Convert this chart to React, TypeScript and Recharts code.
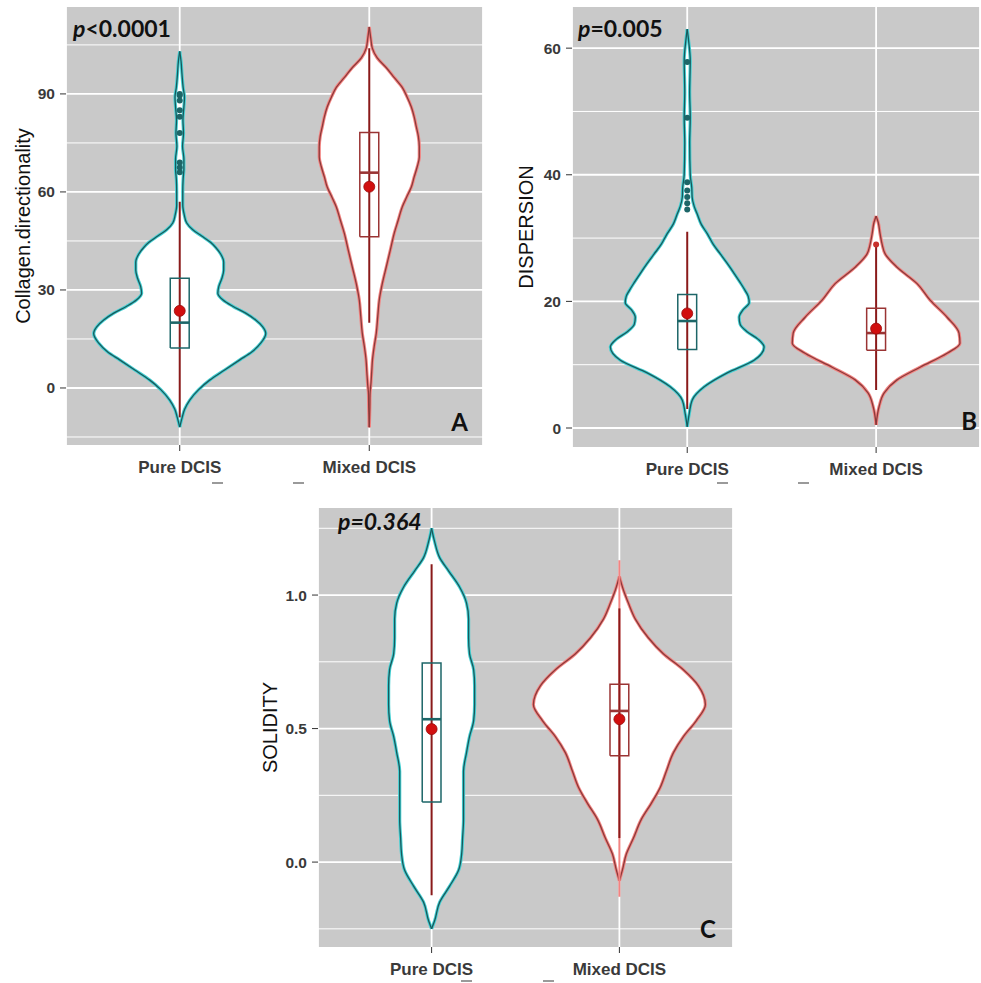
import React from 'react';
import { ComposedChart, Area, Line, Scatter, XAxis, YAxis, CartesianGrid } from 'recharts';

type Pt = [number, number];

const groups = ['Pure DCIS', 'Mixed DCIS'];

// violin outlines: [value, half width of the violin in x units]
const dirPureViolin: Pt[] = [
  [-12, 0], [-9, 0.013], [-6.5, 0.026], [-3.7, 0.053], [-0.5, 0.1], [2.4, 0.158], [5.5, 0.237],
  [8.6, 0.317], [11, 0.38], [13.7, 0.427], [16.7, 0.454], [18.7, 0.438], [20.8, 0.401], [22.9, 0.348],
  [25, 0.28], [27, 0.227], [29, 0.201], [31, 0.206], [33.5, 0.222], [36, 0.232], [38.5, 0.232],
  [41, 0.216], [43, 0.19], [44.5, 0.164], [46.5, 0.116], [48.4, 0.069], [50.5, 0.037], [53, 0.024],
  [56, 0.016], [60, 0.016], [64, 0.018], [67, 0.022], [70, 0.022], [74, 0.015], [78, 0.02], [82, 0.017],
  [86, 0.022], [89, 0.025], [92, 0.018], [96, 0.012], [100, 0.007], [103, 0],
];
const dirMixedViolin: Pt[] = [
  [-12, 0], [-6, 0.003], [-2, 0.004], [1.5, 0.009], [5, 0.013], [8.6, 0.017], [12.7, 0.026],
  [16.8, 0.037], [22, 0.045], [27, 0.053], [32, 0.069], [37.1, 0.09], [42.2, 0.111], [47.4, 0.132],
  [51.4, 0.153], [55.4, 0.174], [58.5, 0.198], [61.5, 0.222], [64.6, 0.237], [67.7, 0.253], [70.7, 0.264],
  [73.8, 0.264], [77, 0.259], [80, 0.248], [83, 0.237], [86, 0.222], [89, 0.2], [92, 0.174], [95, 0.132],
  [98, 0.09], [101, 0.042], [104, 0.016], [107, 0.008], [110.5, 0],
];
const dirQuartiles = [[12.2, 20, 33.6], [46.3, 65.9, 78.2]];
const dirMeans = [23.6, 61.6];
const dirWhiskers = [[-9, 57], [20, 104]];
const dirOutliers = [[66, 67.5, 69, 78, 83, 85, 88, 89.5, 90], []];
const dirTicks = [0, 30, 60, 90];
const dirMinor = [-15, 15, 45, 75, 105];

const dispPureViolin: Pt[] = [
  [0.2, 0], [2.3, 0.011], [4.4, 0.026], [6.5, 0.09], [8.7, 0.212], [10.7, 0.354], [12.8, 0.407],
  [14, 0.376], [15.2, 0.317], [16.4, 0.28], [17.5, 0.275], [18.7, 0.296], [19.8, 0.328], [20.8, 0.323],
  [21.7, 0.307], [23, 0.28], [24.4, 0.249], [26, 0.212], [27.5, 0.175], [29, 0.138], [30.7, 0.106],
  [32.2, 0.074], [33.8, 0.053], [35, 0.037], [36.5, 0.026], [38, 0.024], [40, 0.016], [45, 0.013],
  [49, 0.016], [53, 0.013], [58, 0.016], [61, 0.008], [63, 0],
];
const dispMixedViolin: Pt[] = [
  [0.5, 0], [3.4, 0.016], [5.5, 0.042], [7.6, 0.111], [9.6, 0.233], [11.8, 0.376], [13.4, 0.444],
  [15, 0.439], [17.5, 0.376], [20.2, 0.286], [22.8, 0.217], [25.4, 0.111], [27.5, 0.048], [29, 0.032],
  [30.7, 0.021], [32.5, 0.011], [33.5, 0],
];
const dispQuartiles = [[12.4, 16.9, 21.1], [12.3, 15, 18.9]];
const dispMeans = [18.1, 15.7];
const dispWhiskers = [[3, 31], [6, 29]];
const dispOutliers = [[34.5, 35.5, 36.5, 37.5, 38.8, 49, 57.8], [29]];
const dispTicks = [0, 20, 40, 60];
const dispMinor = [10, 30, 50];

const solPureViolin: Pt[] = [
  [-0.25, 0], [-0.22, 0.016], [-0.15, 0.043], [-0.09, 0.096], [-0.03, 0.144], [0.03, 0.16], [0.09, 0.165],
  [0.16, 0.17], [0.22, 0.17], [0.28, 0.17], [0.34, 0.17], [0.41, 0.186], [0.47, 0.202], [0.53, 0.224],
  [0.59, 0.229], [0.66, 0.229], [0.72, 0.224], [0.78, 0.202], [0.84, 0.197], [0.91, 0.197], [0.97, 0.186],
  [1.03, 0.149], [1.09, 0.091], [1.14, 0.043], [1.2, 0.016], [1.25, 0],
];
const solMixedViolin: Pt[] = [
  [-0.07, 0], [-0.03, 0.016], [0.03, 0.037], [0.09, 0.075], [0.16, 0.117], [0.22, 0.17], [0.28, 0.218],
  [0.34, 0.25], [0.41, 0.288], [0.47, 0.341], [0.53, 0.41], [0.59, 0.458], [0.66, 0.421], [0.72, 0.341],
  [0.78, 0.234], [0.84, 0.154], [0.91, 0.085], [0.97, 0.048], [1.02, 0.021], [1.07, 0],
];
const solQuartiles = [[0.225, 0.535, 0.746], [0.398, 0.566, 0.666]];
const solMeans = [0.498, 0.535];
const solWhiskers = [[-0.124, 1.115], [0.09, 0.95]];
const solTails = [null, [-0.13, 1.13]];
const solOutliers = [[], []];
const solTicks = [0, 0.5, 1];
const solMinor = [-0.25, 0.25, 0.75, 1.25];

const BG = '#c9c9c9';
const FONT = '"Liberation Sans", Arial, sans-serif';
const ANNOT = 'Lato, "Open Sans", sans-serif';
const OUTER = ['#45d0d3', '#f28482'];
const INNER = ['#18595c', '#8c3a3a'];
const BOX = ['#1d6668', '#9a3434'];
const WHISKER = '#8a1a1a';
const BOX_HALF = 0.05;

function buildRows(a: Pt[], b: Pt[]) {
  const map = new Map<number, any>();
  a.forEach(([y, w]) => map.set(y, { ...(map.get(y) || { y }), p: w }));
  b.forEach(([y, w]) => map.set(y, { ...(map.get(y) || { y }), m: w }));
  return [...map.values()].sort((r, s) => r.y - s.y);
}

const Panel = ({ cfg }: { cfg: any }) => {
  const rows = buildRows(cfg.violins[0], cfg.violins[1]);
  const keys = ['p', 'm'];
  const range = (k: string, c: number) => (d: any) => (d[k] == null ? [null, null] : [c - d[k], c + d[k]]);
  return (
    <div style={{ position: 'absolute', left: cfg.left, top: cfg.top }}>
      <ComposedChart layout="vertical" width={cfg.width} height={cfg.height} data={rows} margin={cfg.margin}>
        <CartesianGrid horizontalValues={cfg.minor} vertical={false} stroke="#fff" strokeWidth={1} fill={BG} fillOpacity={1} />
        <CartesianGrid horizontalValues={cfg.ticks} stroke="#fff" strokeWidth={1.8} />
        <XAxis
          type="number"
          dataKey="x"
          domain={cfg.xDomain}
          allowDataOverflow
          ticks={[1, 2]}
          interval={0}
          tickFormatter={(v) => groups[Math.round(v) - 1]}
          height={cfg.xAxisHeight}
          axisLine={false}
          tickSize={6}
          tickMargin={10}
          tickLine={{ stroke: '#333' }}
          tick={{ fontSize: 17, fontWeight: 700, fill: '#3a3a3a', fontFamily: FONT }}
        />
        <YAxis
          type="number"
          dataKey="y"
          reversed
          domain={cfg.yDomain}
          allowDataOverflow
          ticks={cfg.ticks}
          interval={0}
          width={cfg.yAxisWidth}
          tickFormatter={cfg.fmt}
          axisLine={false}
          tickSize={6}
          tickMargin={5}
          tickLine={{ stroke: '#333' }}
          tick={{ fontSize: 15.5, fontWeight: 700, fill: '#3a3a3a', fontFamily: FONT }}
          label={{
            value: cfg.title,
            angle: -90,
            position: 'insideLeft',
            offset: cfg.titleX,
            style: { textAnchor: 'middle', fontSize: 20, fill: '#111', fontFamily: FONT },
          }}
        />
        {keys.map((k, g) => (
          <Area key={'vo' + k} dataKey={range(k, g + 1)} type="monotone" connectNulls stroke={OUTER[g]}
            strokeWidth={3.2} fill="#fff" fillOpacity={1} dot={false} activeDot={false} isAnimationActive={false} />
        ))}
        {keys.map((k, g) => (
          <Area key={'vi' + k} dataKey={range(k, g + 1)} type="monotone" connectNulls stroke={INNER[g]}
            strokeWidth={1.3} fill="none" dot={false} activeDot={false} isAnimationActive={false} />
        ))}
        {(cfg.tails || []).map((t: number[] | null, g: number) => t && (
          <Line key={'t' + g} data={[{ y: t[0], v: g + 1 }, { y: t[1], v: g + 1 }]} dataKey="v" type="linear"
            stroke={OUTER[g]} strokeWidth={2} dot={false} activeDot={false} isAnimationActive={false} />
        ))}
        {cfg.whiskers.map((w: number[], g: number) => (
          <Line key={'w' + g} data={[{ y: w[0], v: g + 1 }, { y: w[1], v: g + 1 }]} dataKey="v" type="linear"
            stroke={WHISKER} strokeWidth={2} dot={false} activeDot={false} isAnimationActive={false} />
        ))}
        {cfg.quartiles.map((q: number[], g: number) => {
          const c = g + 1;
          const box = [
            { y: q[0], v: c - BOX_HALF }, { y: q[2], v: c - BOX_HALF }, { y: q[2], v: c + BOX_HALF },
            { y: q[0], v: c + BOX_HALF }, { y: q[0], v: c - BOX_HALF },
          ];
          return (
            <Line key={'b' + g} data={box} dataKey="v" type="linear" stroke={BOX[g]} strokeWidth={1.5}
              dot={false} activeDot={false} isAnimationActive={false} />
          );
        })}
        {cfg.quartiles.map((q: number[], g: number) => (
          <Line key={'md' + g} data={[{ y: q[1], v: g + 1 - BOX_HALF }, { y: q[1], v: g + 1 + BOX_HALF }]} dataKey="v"
            type="linear" stroke={BOX[g]} strokeWidth={2.6} dot={false} activeDot={false} isAnimationActive={false} />
        ))}
        {cfg.outliers.map((o: number[], g: number) => (
          <Scatter key={'o' + g} data={o.map((y) => ({ x: g + 1, y }))} isAnimationActive={false}
            shape={(s: any) => <circle cx={s.cx} cy={s.cy} r={3} fill={g === 0 ? BOX[0] : '#c8302c'} />} />
        ))}
        <Scatter data={cfg.means.map((y: number, g: number) => ({ x: g + 1, y }))} isAnimationActive={false}
          shape={(s: any) => <circle cx={s.cx} cy={s.cy} r={5.5} fill="#d10f0f" stroke="#9a0a0a" strokeWidth={0.8} />} />
      </ComposedChart>
    </div>
  );
};

const panels = [
  {
    left: 0, top: 0, width: 490, height: 480, margin: { top: 7, right: 7, bottom: 0, left: 0 },
    yAxisWidth: 66, xAxisHeight: 35, titleX: 23, title: 'Collagen.directionality',
    xDomain: [0.4, 2.6], yDomain: [-17.45, 116.6], ticks: dirTicks, minor: dirMinor, fmt: (v: number) => String(v),
    violins: [dirPureViolin, dirMixedViolin], quartiles: dirQuartiles, means: dirMeans,
    whiskers: dirWhiskers, outliers: dirOutliers,
  },
  {
    left: 490, top: 0, width: 491, height: 480, margin: { top: 7, right: 1, bottom: 0, left: 0 },
    yAxisWidth: 82, xAxisHeight: 33, titleX: 36, title: 'DISPERSION',
    xDomain: [0.39, 2.55], yDomain: [-3.0, 66.5], ticks: dispTicks, minor: dispMinor, fmt: (v: number) => String(v),
    violins: [dispPureViolin, dispMixedViolin], quartiles: dispQuartiles, means: dispMeans,
    whiskers: dispWhiskers, outliers: dispOutliers,
  },
  {
    left: 240, top: 470, width: 500, height: 513, margin: { top: 38, right: 7, bottom: 0, left: 0 },
    yAxisWidth: 78, xAxisHeight: 36, titleX: 30, title: 'SOLIDITY',
    xDomain: [0.395, 2.605], yDomain: [-0.318, 1.326], ticks: solTicks, minor: solMinor, fmt: (v: number) => v.toFixed(1),
    violins: [solPureViolin, solMixedViolin], quartiles: solQuartiles, means: solMeans,
    whiskers: solWhiskers, tails: solTails, outliers: solOutliers,
  },
];

export default function App() {
  const t = { fontFamily: ANNOT, fontWeight: 700, fill: '#111' } as const;
  return (
    <div style={{ position: 'absolute', left: 0, top: 0, width: 981, height: 983, overflow: 'hidden', background: '#fff', fontFamily: FONT }}>
      {panels.map((p, i) => <Panel key={i} cfg={p} />)}
      <svg width={981} height={983} style={{ position: 'absolute', left: 0, top: 0, pointerEvents: 'none' }}>
        <text x={73} y={37} fontSize={23} {...t}><tspan fontStyle="italic">p</tspan>&lt;0.0001</text>
        <text x={578} y={37} fontSize={23} {...t}><tspan fontStyle="italic">p</tspan>=0.005</text>
        <text x={338} y={530} fontSize={23} fontStyle="italic" {...t}>p=0.364</text>
        <text x={468} y={431} fontSize={24} textAnchor="end" {...t}>A</text>
        <text x={977} y={430} fontSize={24} textAnchor="end" {...t}>B</text>
        <text x={716} y={938} fontSize={24} textAnchor="end" {...t}>C</text>
        {[[212, 482], [293, 482], [717, 482], [798, 482], [461, 980], [543, 980]].map(([x, y], i) => (
          <rect key={i} x={x} y={y} width={11} height={2} fill="#9a9a9a" />
        ))}
      </svg>
    </div>
  );
}
